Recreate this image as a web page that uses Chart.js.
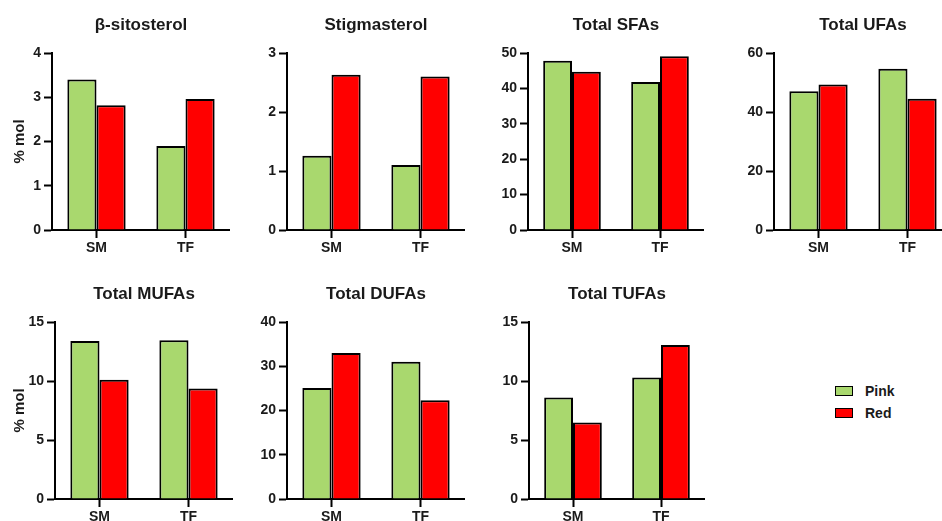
<!DOCTYPE html>
<html>
<head>
<meta charset="utf-8">
<script src="https://cdn.jsdelivr.net/npm/chart.js@4/dist/chart.umd.min.js"></script>
<style>
  html, body { margin: 0; padding: 0; background: #fff; }
  body { width: 942px; height: 521px; overflow: hidden; position: relative; font-family: "Liberation Sans", Arial, sans-serif; }
  canvas { position: absolute; }
  #legend { position: absolute; left: 835px; top: 380px; }
  .item { display: flex; align-items: center; height: 22px; font-weight: bold; font-size: 14px; color: #1a1a1a; }
  .swatch { width: 16px; height: 8px; border: 1.5px solid #000; margin-right: 12px; }
</style>
</head>
<body>
<div id="legend"></div>
<script>
// data
const categories = ["SM", "TF"];
const seriesNames = ["Pink", "Red"];
const seriesColors = ["#A9D86E", "#FF0000"];
const panelTitles = ["β-sitosterol", "Stigmasterol", "Total SFAs", "Total UFAs", "Total MUFAs", "Total DUFAs", "Total TUFAs"];
const pinkValues = [[3.4, 1.9], [1.26, 1.1], [47.8, 41.8], [47, 54.7], [13.4, 13.45], [25.1, 31.0], [8.6, 10.3]];
const redValues = [[2.82, 2.96], [2.63, 2.6], [44.7, 49.1], [49.3, 44.5], [10.1, 9.37], [33, 22.3], [6.48, 13.05]];
const yMax = [4, 3, 50, 60, 15, 40, 15];
const yStep = [1, 1, 10, 20, 5, 10, 5];
const yTitle = "% mol";

// panel placement: canvas left/top, y-axis x position, plot width
const panels = [
  { left: 0, top: 0, axisX: 52, w: 178 },
  { left: 235, top: 0, axisX: 287, w: 178 },
  { left: 476, top: 0, axisX: 528, w: 176 },
  { left: 722, top: 0, axisX: 774, w: 178 },
  { left: 0, top: 269, axisX: 55, w: 178 },
  { left: 235, top: 269, axisX: 287, w: 178 },
  { left: 476, top: 269, axisX: 529, w: 176 },
];

const FONT = "'Liberation Sans', Arial, sans-serif";
const TXT = "#1a1a1a";

panels.forEach((p, i) => {
  const yw = p.axisX - p.left;
  const cv = document.createElement("canvas");
  cv.width = yw + p.w;
  cv.height = 260;
  cv.style.left = p.left + "px";
  cv.style.top = p.top + "px";
  document.body.appendChild(cv);

  const showTitle = (i === 0 || i === 4);

  new Chart(cv, {
    type: "bar",
    data: {
      labels: categories,
      datasets: [
        { label: seriesNames[0], data: pinkValues[i], backgroundColor: seriesColors[0] },
        { label: seriesNames[1], data: redValues[i], backgroundColor: seriesColors[1] },
      ].map(d => Object.assign(d, { borderColor: "#000", borderWidth: 2, categoryPercentage: 0.655, barPercentage: 1 })),
    },
    options: {
      responsive: false,
      animation: false,
      layout: { padding: 0 },
      plugins: {
        legend: { display: false },
        tooltip: { enabled: false },
        title: {
          display: true,
          text: panelTitles[i],
          fullSize: false,
          color: TXT,
          font: { family: FONT, size: 17, weight: "bold" },
          padding: { top: 15, bottom: 17.6 },
        },
      },
      scales: {
        x: {
          offset: true,
          grid: { offset: false, drawOnChartArea: false, tickLength: 8, tickWidth: 2, tickColor: "#000" },
          border: { color: "#000", width: 2 },
          ticks: { color: TXT, font: { family: FONT, size: 14, weight: "bold" }, padding: 2 },
          afterFit: s => { s.height = 30; },
        },
        y: {
          min: 0,
          max: yMax[i],
          ticks: { stepSize: yStep[i], color: TXT, font: { family: FONT, size: 14, weight: "bold" }, padding: 3 },
          grid: { drawOnChartArea: false, tickLength: 8, tickWidth: 2, tickColor: "#000" },
          border: { color: "#000", width: 2 },
          title: {
            display: showTitle,
            text: yTitle,
            color: TXT,
            font: { family: FONT, size: 15, weight: "bold" },
            padding: { top: 11, bottom: 0 },
          },
          afterFit: s => { s.width = yw; },
        },
      },
    },
  });
});

// legend
const legend = document.getElementById("legend");
seriesNames.forEach((name, k) => {
  const row = document.createElement("div");
  row.className = "item";
  const sw = document.createElement("span");
  sw.className = "swatch";
  sw.style.background = seriesColors[k];
  row.appendChild(sw);
  row.appendChild(document.createTextNode(name));
  legend.appendChild(row);
});
</script>
</body>
</html>
